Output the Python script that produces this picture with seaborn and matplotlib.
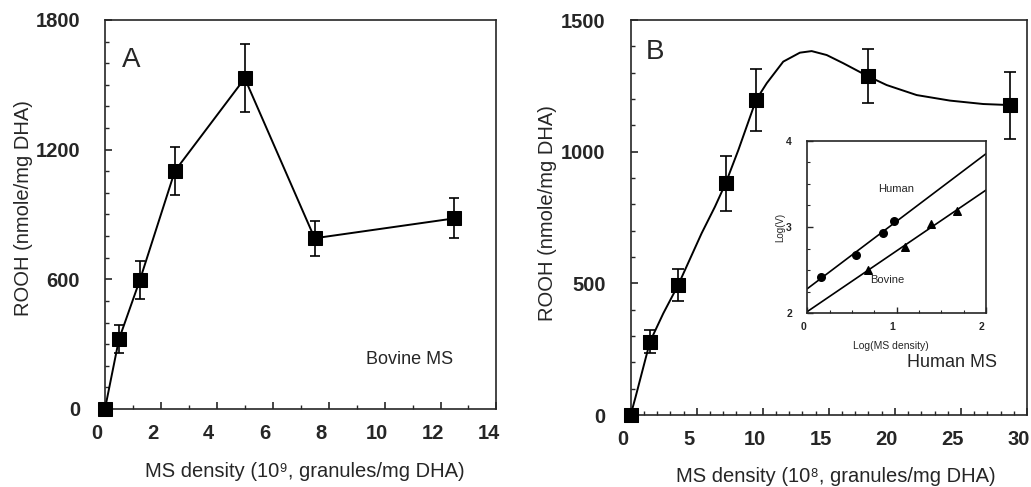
import matplotlib
matplotlib.use("Agg")
import matplotlib.pyplot as plt
import matplotlib.transforms as mtransforms
from matplotlib.ticker import MultipleLocator
import seaborn as sns

# --- panel A: bovine MS ---
bovine_density = [0, 0.5, 1.25, 2.5, 5.0, 7.5, 12.5]
bovine_rooh = [0, 322, 597, 1101, 1530, 790, 882]
bovine_err = [0, 65, 88, 112, 157, 80, 92]

# --- panel B: human MS ---
human_density = [0, 1.46, 3.6, 7.19, 9.49, 17.94, 28.71]
human_rooh = [0, 278, 494, 880, 1196, 1287, 1177]
human_err = [0, 43, 62, 105, 117, 102, 127]

# smooth curve through the human data
curve_x = [0, 0.38, 1.46, 2.47, 3.6, 5.37, 6.38, 7.19, 8.15, 9.49, 10.3, 11.55,
           12.81, 13.7, 14.84, 16.09, 17.94, 19.38, 21.65, 24.17, 26.69, 28.71]
curve_y = [0, 70, 278, 386, 494, 690, 791, 880, 1006, 1196, 1260, 1342,
           1376, 1382, 1367, 1336, 1287, 1253, 1215, 1194, 1181, 1177]

# --- inset: log(V) vs log(MS density) ---
inset_human_x = [0.153, 0.544, 0.849, 0.972]
inset_human_y = [2.424, 2.676, 2.934, 3.073]
inset_bovine_x = [0.682, 1.092, 1.383, 1.68]
inset_bovine_y = [2.502, 2.765, 3.031, 3.185]

sns.set_style("ticks")
plt.rcParams['font.family'] = ['Liberation Sans', 'DejaVu Sans']
plt.rcParams['axes.linewidth'] = 1.2

fig = plt.figure(figsize=(10.31, 4.87), dpi=100)
axA = fig.add_axes([0.1018, 0.1602, 0.3797, 0.7988])
axB = fig.add_axes([0.6117, 0.1478, 0.3844, 0.8111])
axI = fig.add_axes([0.783, 0.3567, 0.1733, 0.3544])

# panel A
axA.errorbar(bovine_density, bovine_rooh, yerr=bovine_err, fmt='none',
             ecolor='black', elinewidth=1.2, capsize=3.5, capthick=1.2, zorder=2)
sns.lineplot(x=bovine_density, y=bovine_rooh, color='black', lw=1.4,
             marker='s', markersize=9.5, markeredgecolor='black',
             estimator=None, sort=False, ax=axA, zorder=3)

# panel B
axB.errorbar(human_density, human_rooh, yerr=human_err, fmt='none',
             ecolor='black', elinewidth=1.2, capsize=4, capthick=1.2, zorder=2)
sns.lineplot(x=curve_x, y=curve_y, color='black', lw=1.4,
             estimator=None, sort=False, ax=axB, zorder=3)
sns.scatterplot(x=human_density, y=human_rooh, marker='s', s=9.5 ** 2,
                color='black', edgecolor='black', ax=axB, zorder=4)

for ax in (axA, axB):
    for ln in ax.lines:
        ln.set_clip_on(False)
    for coll in ax.collections:
        coll.set_clip_on(False)

axA.set_xlim(0, 14)
axA.set_xticks(range(0, 15, 2))
axA.xaxis.set_minor_locator(MultipleLocator(1))
axA.set_ylim(0, 1800)
axA.set_yticks([0, 600, 1200, 1800])
axA.yaxis.set_minor_locator(MultipleLocator(100))

axB.set_xlim(0, 30)
axB.set_xticks(range(0, 31, 5))
axB.xaxis.set_minor_locator(MultipleLocator(1))
axB.set_ylim(0, 1500)
axB.set_yticks([0, 500, 1000, 1500])
axB.yaxis.set_minor_locator(MultipleLocator(100))

# inset
axI.set_xlim(0, 2)
axI.set_ylim(2, 4)
sns.regplot(x=inset_human_x, y=inset_human_y, ci=None, truncate=False,
            marker='o', color='black', scatter_kws={'s': 30, 'alpha': 1},
            line_kws={'lw': 1.2}, ax=axI)
sns.regplot(x=inset_bovine_x, y=inset_bovine_y, ci=None, truncate=False,
            marker='^', color='black', scatter_kws={'s': 30, 'alpha': 1},
            line_kws={'lw': 1.2}, ax=axI)
axI.set_xlim(0, 2)
axI.set_ylim(2, 4)
axI.set_xticks([0, 1, 2])
axI.set_yticks([2, 3, 4])
axI.xaxis.set_minor_locator(MultipleLocator(0.25))
axI.yaxis.set_minor_locator(MultipleLocator(0.25))
axI.text(1.0, 3.44, "Human", fontsize=8, ha='center', va='center')
axI.text(0.89, 2.39, "Bovine", fontsize=8, ha='center', va='center')
axI.set_xlabel("Log(MS density)", fontsize=7.5)
axI.set_ylabel("Log(V)", fontsize=7)
axI.xaxis.label.set_va('center')
axI.yaxis.label.set_va('center')
axI.xaxis.set_label_coords(0.47, -0.19)
axI.yaxis.set_label_coords(-0.15, 0.5)
axI.tick_params(which='major', direction='in', length=4, width=1.0,
                labelsize=7.5, pad=6)
axI.tick_params(axis='y', which='major', pad=11)
axI.tick_params(which='minor', direction='in', length=2.5, width=0.8)
for lbl in axI.get_xticklabels() + axI.get_yticklabels():
    lbl.set_fontweight('bold')

# axis text
axA.set_ylabel("ROOH (nmole/mg DHA)", fontsize=14.5)
axA.set_xlabel("MS density (10\u2079, granules/mg DHA)", fontsize=14.5)
axB.set_ylabel("ROOH (nmole/mg DHA)", fontsize=14.5)
axB.set_xlabel("MS density (10\u2078, granules/mg DHA)", fontsize=14.5)
for ax in (axA, axB):
    ax.xaxis.label.set_va('center')
    ax.yaxis.label.set_va('center')
axA.yaxis.set_label_coords(-0.209, 0.517)
axA.xaxis.set_label_coords(0.511, -0.161)
axB.yaxis.set_label_coords(-0.211, 0.511)
axB.xaxis.set_label_coords(0.517, -0.156)

axA.text(0.068, 0.897, "A", transform=axA.transAxes, fontsize=20,
         ha='center', va='center')
axB.text(0.061, 0.919, "B", transform=axB.transAxes, fontsize=20,
         ha='center', va='center')
axA.text(0.779, 0.126, "Bovine MS", transform=axA.transAxes, fontsize=13,
         ha='center', va='center')
axB.text(0.811, 0.134, "Human MS", transform=axB.transAxes, fontsize=13,
         ha='center', va='center')

for ax in (axA, axB):
    ax.tick_params(which='major', direction='in', length=5, width=1.2,
                   labelsize=14.5)
    ax.tick_params(axis='y', which='major', pad=18)
    ax.tick_params(axis='x', which='major', pad=11)
    ax.tick_params(which='minor', direction='in', length=3, width=1.0)
    for lbl in ax.get_xticklabels() + ax.get_yticklabels():
        lbl.set_fontweight('bold')

# tick labels in the original sit a little left of their ticks
shift_main = mtransforms.ScaledTranslation(-0.08, 0, fig.dpi_scale_trans)
shift_inset = mtransforms.ScaledTranslation(-0.04, 0, fig.dpi_scale_trans)
for ax, sh in ((axA, shift_main), (axB, shift_main), (axI, shift_inset)):
    for t in ax.xaxis.get_major_ticks():
        t.label1.set_transform(t.label1.get_transform() + sh)

fig.savefig("out.png", dpi=100)
